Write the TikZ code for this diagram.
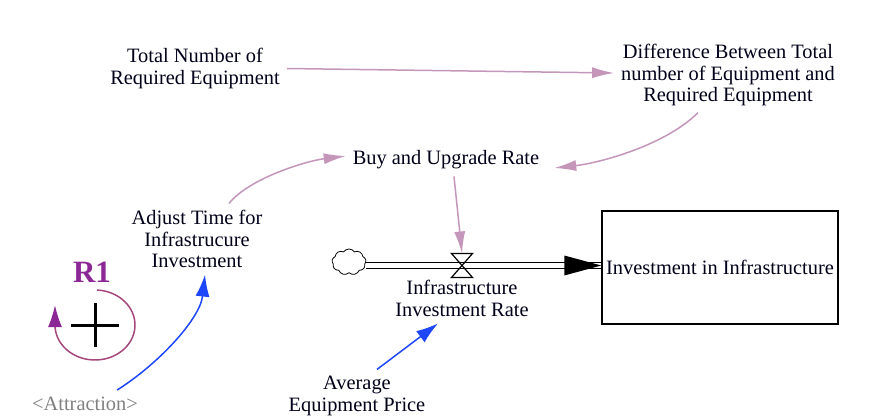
\documentclass[tikz,border=0pt]{standalone}
\usepackage{fontspec}
\setmainfont{Liberation Serif}
\usetikzlibrary{arrows.meta}
\usetikzlibrary{shapes.symbols}

\definecolor{linkpink}{RGB}{196,150,186}
\definecolor{linkblue}{RGB}{30,70,250}
\definecolor{loopline}{RGB}{165,70,125}
\definecolor{loophead}{RGB}{140,40,150}

\begin{document}
\begin{tikzpicture}[x=0.5pt,y=-0.5pt]
		\tikzset{var/.style = {align=center,font=\fontsize{10.2}{10.6}\selectfont,text=black!90!blue}}
		\tikzset{link/.style = {draw=linkpink,line width=0.75pt,-{Latex[length=11pt,width=5.5pt]}}}
		\tikzset{blink/.style = {draw=linkblue,line width=0.75pt,-{Latex[length=11pt,width=7pt]}}}
		\tikzset{stock/.style = {draw,line width=0.7pt,minimum width=118pt,minimum height=56.5pt,inner sep=1pt}}
		\tikzset{pipe/.style = {draw,double,double distance=2.3pt,line width=0.6pt}}
		\useasboundingbox (0,0) rectangle (880,418);
			\node[var] (total) at (195,68.5) {Total Number of\\Required Equipment};
			\node[var] (diff) at (728,75) {Difference Between Total\\number of Equipment and\\Required Equipment};
			\node[var] (buy) at (446,160) {Buy and Upgrade Rate};
			\node[var] (adjust) at (197,239) {Adjust Time for\\Infrastrucure\\Investment};
			\node[var] (rate) at (462,298.5) {Infrastructure\\Investment Rate};
			\node[var] (avg) at (357,396) {Average\\Equipment Price};
			\node[var,text=gray] (attr) at (85,404) {<Attraction>};
			\node[stock,var] (stock) at (720,267.5) {Investment in Infrastructure};
			\node[cloud,draw,cloud puffs=9,cloud puff arc=110,minimum width=17pt,minimum height=13pt,inner sep=0pt,fill=white] (cloud) at (349,262) {};
			\coordinate (valve) at (462,265.5);
			\coordinate (loop) at (95,325);
			% flow pipe
			\draw[pipe] (cloud.east |- valve) -- (stock.west |- valve);
			\fill (stock.west |- valve) -- ++(-37,-10) -- ++(0,20) -- cycle;
			\draw[line width=0.6pt] ([shift={(-10.5,-12)}]valve) -- ([shift={(10.5,-12)}]valve) -- ([shift={(-10.5,12)}]valve) -- ([shift={(10.5,12)}]valve) -- cycle;
			% links
			\draw[link] (total.east) -- ([yshift=1pt]diff.west);
			\draw[link] ([xshift=-15pt]diff.south) .. controls +(-33,33) and +(45,-5) .. ([xshift=4pt,yshift=-4pt]buy.east);
			\draw[link] ([xshift=16pt]adjust.north) .. controls +(20,-25) and +(-40,5) .. ([yshift=2pt]buy.west);
			\draw[link] ([xshift=4pt]buy.south) -- ([yshift=6pt]valve);
			\draw[blink] ([xshift=16pt]attr.north) .. controls +(40,-25) and +(-5,45) .. ([xshift=4pt]adjust.south);
			\draw[blink] ([xshift=10pt]avg.north) -- ([xshift=-12pt]rate.south);
			% loop R1
			\node[text=loophead,font=\fontsize{15.5}{16}\selectfont\bfseries] (rone) at (92,272) {R1};
			\draw[loopline,line width=0.75pt,-{Latex[length=11pt,width=7pt,fill=loophead,color=loophead]}] ([shift={(-87:40 and 35)}]loop) arc[start angle=-87,end angle=180,x radius=40,y radius=35] -- ++(0,-20);
			\draw[line width=1.5pt] ([xshift=-12pt]loop) -- ([xshift=12pt]loop);
			\draw[line width=1.5pt] ([yshift=-11pt]loop) -- ([yshift=11pt]loop);
		\end{tikzpicture}
\end{document}
